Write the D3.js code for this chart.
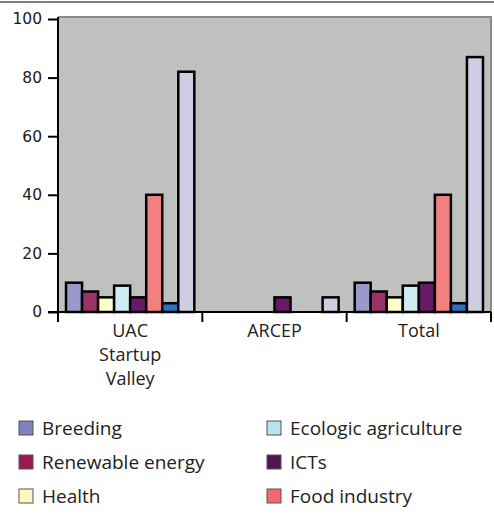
<!DOCTYPE html>
<html>
<head>
<meta charset="utf-8">
<script src="https://cdn.jsdelivr.net/npm/d3@7"></script>
<style>
  body { margin: 0; background: #fff; }
  .tick-label { font-family: "DejaVu Sans", Verdana, sans-serif; font-size: 15.5px; fill: #1a1a1a; }
  .cat-label { font-family: "Open Sans", "Noto Sans", sans-serif; font-size: 18px; fill: #222; }
  .legend-label { font-family: "Open Sans", "Noto Sans", sans-serif; font-size: 19px; fill: #222; }
</style>
</head>
<body>
<script>
// data
var groups = ["UAC Startup Valley", "ARCEP", "Total"];
var groupLines = [["UAC", "Startup", "Valley"], ["ARCEP"], ["Total"]];
var series = ["Breeding", "Renewable energy", "Health", "Ecologic agriculture",
              "ICTs", "Food industry", "Other (blue)", "Other (lavender)"];
var values = [
  [10, 7, 5, 9, 5, 40, 3, 82],   // UAC Startup Valley
  [0, 0, 0, 0, 5, 0, 0, 5],      // ARCEP
  [10, 7, 5, 9, 10, 40, 3, 87]   // Total
];
var barColors = ["#9999cc", "#993366", "#ffffcc", "#d0ecf2", "#661a66", "#f28080", "#2f6cc4", "#d0cce4"];
var legendItems = ["Breeding", "Ecologic agriculture", "Renewable energy", "ICTs", "Health", "Food industry"];
var legendColors = ["#8080c0", "#b6e3ef", "#9a1a50", "#501650", "#fcfac2", "#f06a70"];
var yTicks = [0, 20, 40, 60, 80, 100];

var W = 494, H = 522;
var svg = d3.select("body").append("svg").attr("width", W).attr("height", H);

// thin rule at the very top
svg.append("line").attr("x1", 0).attr("x2", W).attr("y1", 2).attr("y2", 2)
   .attr("stroke", "#555").attr("stroke-width", 1.5);

var pLeft = 58, pRight = 491, pTop = 17, pBottom = 312;

var x0 = d3.scaleBand().domain(groups).range([pLeft, pRight]).padding(0);
var x1 = d3.scaleBand().domain(d3.range(series.length)).range([0, x0.bandwidth()])
           .paddingInner(0).paddingOuter(0.5);
var y = d3.scaleLinear().domain([0, 100]).range([pBottom, pTop + 2]);

// plot background + grey frame on top/right
svg.append("rect").attr("x", pLeft).attr("y", pTop).attr("width", pRight - pLeft).attr("height", pBottom - pTop)
   .attr("fill", "#c0c0c0");
svg.append("path").attr("d", "M" + pLeft + "," + pTop + "H" + pRight + "V" + pBottom)
   .attr("fill", "none").attr("stroke", "#8a8a8a").attr("stroke-width", 2);

// bars
svg.selectAll(".grp").data(groups).enter().append("g")
   .attr("class", "grp")
   .attr("transform", function(d) { return "translate(" + x0(d) + ",0)"; })
   .each(function(d, gi) {
     var sel = d3.select(this);
     values[gi].forEach(function(v, j) {
       if (v <= 0) return;
       sel.append("rect")
          .attr("x", x1(j))
          .attr("y", y(v))
          .attr("width", x1.bandwidth())
          .attr("height", pBottom - y(v))
          .attr("fill", barColors[j])
          .attr("stroke", "#000").attr("stroke-width", 2.5);
     });
   });

// y axis
var yAxis = d3.axisLeft(y).tickValues(yTicks).tickSize(10).tickPadding(6);
var ya = svg.append("g").attr("transform", "translate(" + pLeft + ",0)").call(yAxis);
ya.attr("font-family", null).attr("font-size", null);
ya.select(".domain").attr("d", "M0," + pTop + "V" + (pBottom + 10)).attr("stroke", "#000").attr("stroke-width", 2);
ya.selectAll(".tick line").attr("stroke", "#000").attr("stroke-width", 2);
ya.selectAll(".tick text").attr("class", "tick-label").attr("fill", null);

// x axis line + category separators
svg.append("line").attr("x1", pLeft - 10).attr("x2", pRight).attr("y1", pBottom).attr("y2", pBottom)
   .attr("stroke", "#000").attr("stroke-width", 2);
groups.concat(["end"]).forEach(function(d, i) {
  var xx = i < groups.length ? x0(d) : pRight;
  svg.append("line").attr("x1", xx).attr("x2", xx).attr("y1", pBottom).attr("y2", pBottom + 10)
     .attr("stroke", "#000").attr("stroke-width", 2);
});

// category labels
groups.forEach(function(d, i) {
  var cx = x0(d) + x0.bandwidth() / 2;
  var t = svg.append("text").attr("class", "cat-label").attr("text-anchor", "middle").attr("x", cx);
  groupLines[i].forEach(function(line, k) {
    t.append("tspan").attr("x", cx).attr("y", 337 + k * 24).text(line);
  });
});

// legend (two columns)
legendItems.forEach(function(name, i) {
  var col = i % 2, row = Math.floor(i / 2);
  var lx = col === 0 ? 19 : 267, ly = 428 + row * 34;
  svg.append("rect").attr("x", lx).attr("y", ly - 7).attr("width", 14).attr("height", 14)
     .attr("fill", legendColors[i]).attr("stroke", "#555").attr("stroke-width", 1);
  svg.append("text").attr("class", "legend-label").attr("x", lx + 23).attr("y", ly)
     .attr("dy", "0.35em").text(name);
});
</script>
</body>
</html>
